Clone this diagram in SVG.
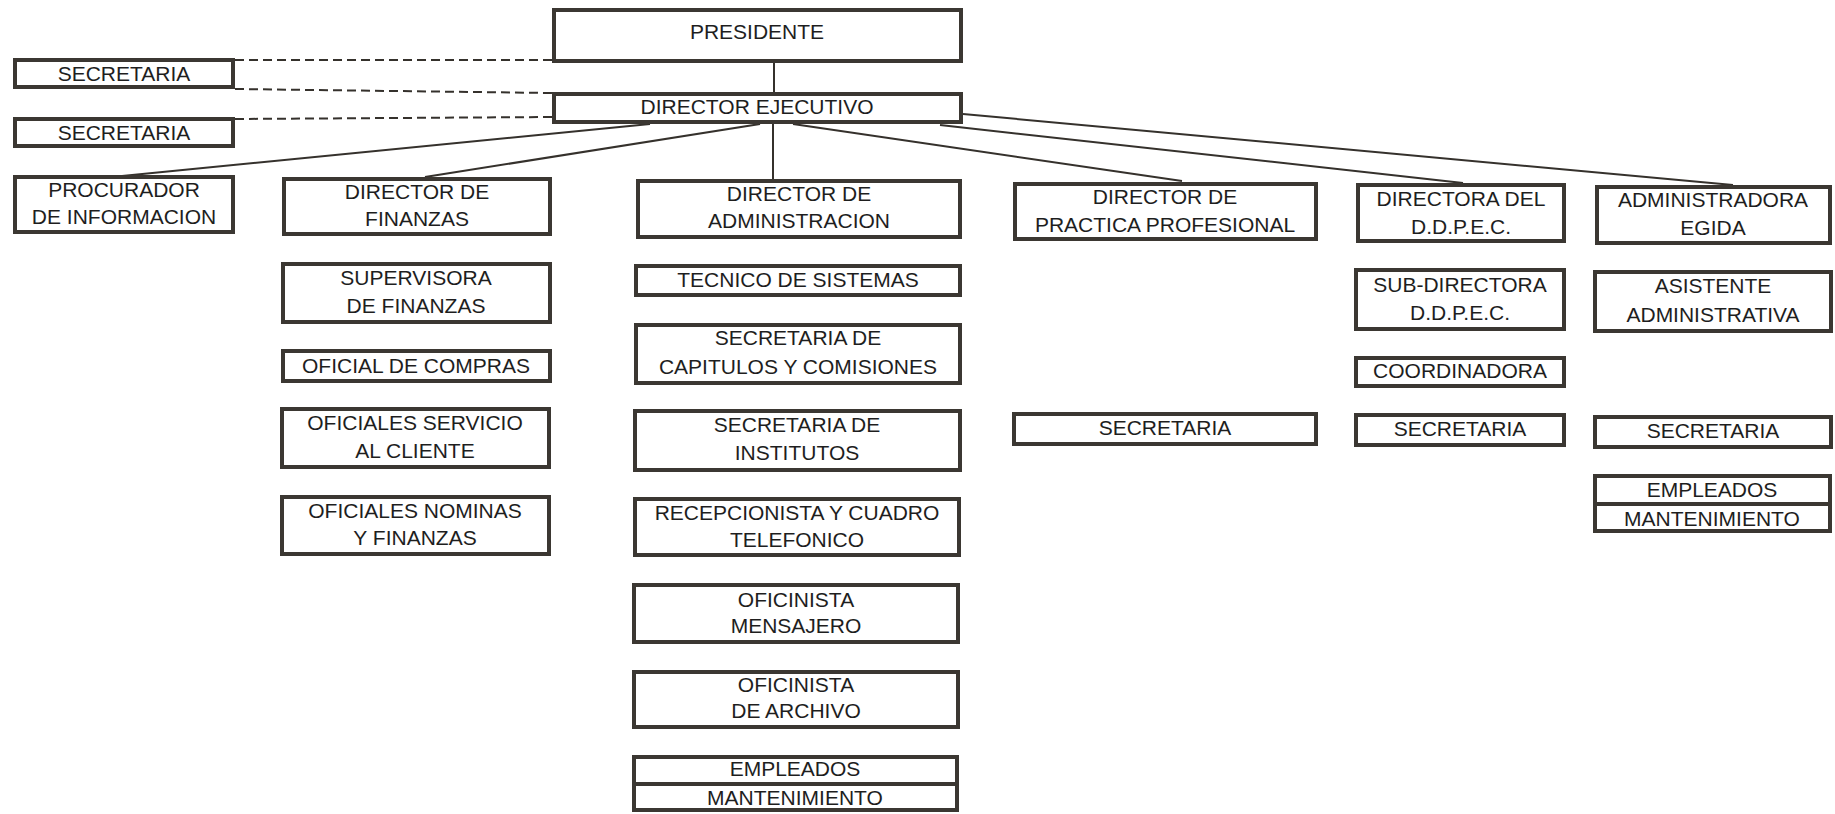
<svg xmlns="http://www.w3.org/2000/svg" width="1835" height="814" viewBox="0 0 1835 814">
<style>
.b{fill:#fff;stroke:#3b3732;stroke-width:4}
.d{stroke:#3b3732;stroke-width:4}
.c{stroke:#35312c;stroke-width:2;fill:none}
.dash{stroke:#35312c;stroke-width:2;stroke-dasharray:9 5;fill:none}
text{font-family:"Liberation Sans",Arial,sans-serif;font-size:21px;fill:#1e1e1e;text-anchor:middle}
</style>
<rect width="1835" height="814" fill="#fff"/>
<g id="connectors">
<line class="c" x1="774" y1="62" x2="774" y2="93"/>
<line class="c" x1="773" y1="123" x2="773" y2="180"/>
<line class="c" x1="650" y1="124" x2="122" y2="176"/>
<line class="c" x1="760" y1="124" x2="425" y2="177"/>
<line class="c" x1="793" y1="124" x2="1182" y2="181"/>
<line class="c" x1="940" y1="125" x2="1463" y2="183"/>
<line class="c" x1="963" y1="114" x2="1733" y2="185"/>
<line class="dash" x1="235" y1="60" x2="552" y2="60"/>
<line class="dash" x1="235" y1="89" x2="552" y2="93"/>
<line class="dash" x1="235" y1="119" x2="552" y2="117"/>
</g>
<g id="presidente"><rect class="b" x="554" y="10" width="407" height="51"/><text x="757" y="39">PRESIDENTE</text></g>
<g id="secretaria-1"><rect class="b" x="15" y="60" width="218" height="27"/><text x="124" y="81">SECRETARIA</text></g>
<g id="director-ejecutivo"><rect class="b" x="554" y="94" width="407" height="28"/><text x="757" y="114">DIRECTOR EJECUTIVO</text></g>
<g id="secretaria-2"><rect class="b" x="15" y="119" width="218" height="27"/><text x="124" y="140">SECRETARIA</text></g>
<g id="procurador"><rect class="b" x="15" y="177" width="218" height="55"/><text x="124" y="197">PROCURADOR</text><text x="124" y="224">DE INFORMACION</text></g>
<g id="dir-finanzas"><rect class="b" x="284" y="179" width="266" height="55"/><text x="417" y="199">DIRECTOR DE</text><text x="417" y="226">FINANZAS</text></g>
<g id="dir-administracion"><rect class="b" x="638" y="181" width="322" height="56"/><text x="799" y="201">DIRECTOR DE</text><text x="799" y="228">ADMINISTRACION</text></g>
<g id="dir-practica"><rect class="b" x="1015" y="184" width="301" height="55"/><text x="1165" y="204">DIRECTOR DE</text><text x="1165" y="232">PRACTICA PROFESIONAL</text></g>
<g id="directora-ddpec"><rect class="b" x="1358" y="185" width="206" height="56"/><text x="1461" y="206">DIRECTORA DEL</text><text x="1461" y="234">D.D.P.E.C.</text></g>
<g id="administradora-egida"><rect class="b" x="1597" y="187" width="233" height="56"/><text x="1713" y="207">ADMINISTRADORA</text><text x="1713" y="235">EGIDA</text></g>
<g id="supervisora"><rect class="b" x="283" y="264" width="267" height="58"/><text x="416" y="285">SUPERVISORA</text><text x="416" y="313">DE FINANZAS</text></g>
<g id="oficial-compras"><rect class="b" x="283" y="351" width="267" height="30"/><text x="416" y="373">OFICIAL DE COMPRAS</text></g>
<g id="oficiales-servicio"><rect class="b" x="282" y="409" width="267" height="58"/><text x="415" y="430">OFICIALES SERVICIO</text><text x="415" y="458">AL CLIENTE</text></g>
<g id="oficiales-nominas"><rect class="b" x="282" y="497" width="267" height="57"/><text x="415" y="518">OFICIALES NOMINAS</text><text x="415" y="545">Y FINANZAS</text></g>
<g id="tecnico"><rect class="b" x="636" y="266" width="324" height="29"/><text x="798" y="287">TECNICO DE SISTEMAS</text></g>
<g id="sec-capitulos"><rect class="b" x="636" y="325" width="324" height="58"/><text x="798" y="345">SECRETARIA DE</text><text x="798" y="374">CAPITULOS Y COMISIONES</text></g>
<g id="sec-institutos"><rect class="b" x="635" y="411" width="325" height="59"/><text x="797" y="432">SECRETARIA DE</text><text x="797" y="460">INSTITUTOS</text></g>
<g id="recepcionista"><rect class="b" x="635" y="499" width="324" height="56"/><text x="797" y="520">RECEPCIONISTA Y CUADRO</text><text x="797" y="547">TELEFONICO</text></g>
<g id="oficinista-mensajero"><rect class="b" x="634" y="585" width="324" height="57"/><text x="796" y="607">OFICINISTA</text><text x="796" y="633">MENSAJERO</text></g>
<g id="oficinista-archivo"><rect class="b" x="634" y="672" width="324" height="55"/><text x="796" y="692">OFICINISTA</text><text x="796" y="718">DE ARCHIVO</text></g>
<g id="empleados-admin"><rect class="b" x="634" y="757" width="323" height="53"/><line class="d" x1="634" y1="784" x2="957" y2="784"/><text x="795" y="776">EMPLEADOS</text><text x="795" y="805">MANTENIMIENTO</text></g>
<g id="sec-practica"><rect class="b" x="1014" y="414" width="302" height="30"/><text x="1165" y="435">SECRETARIA</text></g>
<g id="sub-directora"><rect class="b" x="1356" y="270" width="208" height="59"/><text x="1460" y="292">SUB-DIRECTORA</text><text x="1460" y="320">D.D.P.E.C.</text></g>
<g id="coordinadora"><rect class="b" x="1356" y="358" width="208" height="28"/><text x="1460" y="378">COORDINADORA</text></g>
<g id="sec-ddpec"><rect class="b" x="1356" y="415" width="208" height="30"/><text x="1460" y="436">SECRETARIA</text></g>
<g id="asistente"><rect class="b" x="1595" y="272" width="236" height="59"/><text x="1713" y="293">ASISTENTE</text><text x="1713" y="322">ADMINISTRATIVA</text></g>
<g id="sec-egida"><rect class="b" x="1595" y="417" width="236" height="30"/><text x="1713" y="438">SECRETARIA</text></g>
<g id="empleados-egida"><rect class="b" x="1595" y="476" width="235" height="55"/><line class="d" x1="1595" y1="504" x2="1830" y2="504"/><text x="1712" y="497">EMPLEADOS</text><text x="1712" y="526">MANTENIMIENTO</text></g>
</svg>
